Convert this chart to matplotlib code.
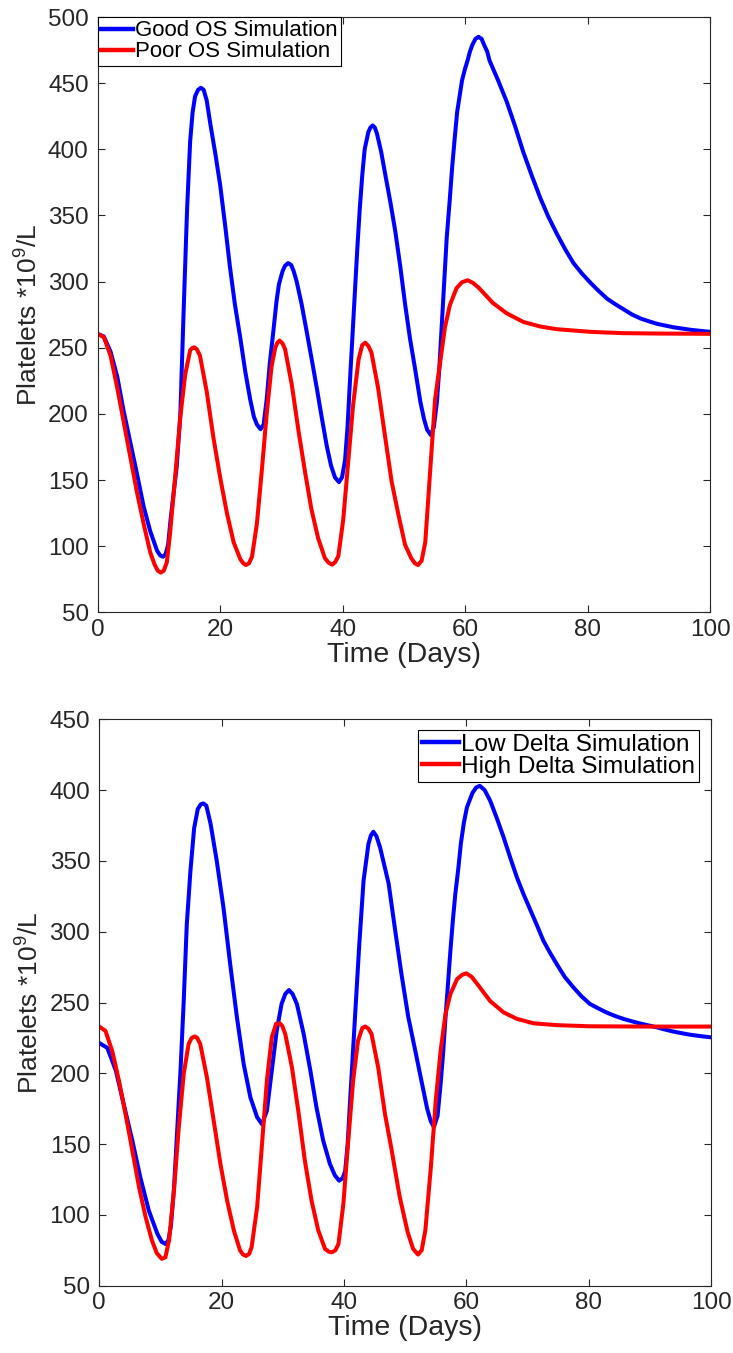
import matplotlib
matplotlib.use("Agg")
import matplotlib.pyplot as plt

plt.rcParams['font.family'] = ['Liberation Sans', 'DejaVu Sans']
plt.rcParams['mathtext.fontset'] = 'custom'
plt.rcParams['mathtext.rm'] = 'Liberation Sans'
plt.rcParams['mathtext.it'] = 'Liberation Sans'

# ---------------- Top panel: Good vs Poor OS ----------------
good_t = [0, 1, 2.1, 3.2, 4.2, 5.3, 6.4, 7.5, 8.6, 9.7, 10.2, 10.65, 11.1, 11.5, 11.9, 12.4, 12.9,
          13.5, 14.0, 14.6, 15.1, 15.5, 15.9, 16.4, 16.85, 17.3, 17.8, 18.4, 19.2, 20.0, 20.8, 21.6,
          22.4, 23.3, 24.1, 24.9, 25.5, 26.0, 26.6, 27.1, 27.6, 28.1, 28.7, 29.2, 29.6, 30.2, 30.6,
          31.1, 31.6, 32.0, 32.5, 33.3, 34.1, 35.0, 35.8, 36.6, 37.4, 38.1, 38.75, 39.4, 39.9, 40.4,
          40.8, 41.2, 41.6, 42.0, 42.4, 42.8, 43.2, 43.6, 44.2, 44.55, 44.9, 45.25, 45.6, 46.3, 47.0,
          47.8, 48.6, 49.4, 50.2, 51.0, 51.8, 52.7, 53.3, 53.8, 54.4, 54.9, 55.4, 55.8, 56.2, 56.6,
          57.0, 57.5, 57.9, 58.3, 58.7, 59.1, 59.5, 60.0, 60.4, 60.8, 61.2, 61.7, 62.2, 62.7, 63.1,
          63.6, 64.0, 65.4, 66.8, 68.2, 69.5, 70.9, 72.3, 73.6, 75.0, 76.4, 77.7, 79.1, 80.5, 81.8,
          83.2, 84.5, 85.9, 87.3, 88.7, 90.0, 91.4, 94.1, 96.9, 100]
good_v = [260.5, 258.5, 247, 228, 203, 179, 155, 130, 111, 96.5, 93, 92, 94, 101, 120, 140, 160,
          200, 273, 355, 406, 428, 440, 445, 446.5, 445, 437, 419, 397, 373, 343, 311,
          283, 257, 232, 211, 198, 192, 188.4, 192, 211, 238, 263, 285, 298, 308, 312,
          314, 312.5, 308, 300, 283, 263, 240, 219, 197, 176, 161, 152, 148.4, 152, 165,
          190, 225, 258, 292, 325, 355, 380, 400, 413, 416.5, 418, 416.5, 412, 398, 380,
          360, 338, 312, 283, 257, 235, 209, 196, 188, 184, 190, 209, 235, 268, 300,
          333, 362, 387, 408, 428, 440, 452, 461, 467, 474, 479, 483.5, 485, 483.5, 479,
          474, 467, 452, 436, 417, 398, 380, 363, 349, 336, 324, 314, 306, 299, 293,
          287, 283, 279, 275, 272, 270, 268, 265.4, 263.5, 262]

poor_t = [0, 1.0, 2.1, 3.2, 4.2, 5.3, 6.4, 7.5, 8.6, 9.3, 9.8, 10.3, 10.8, 11.3, 11.8, 12.7, 13.5,
          14.3, 15.1, 15.45, 15.8, 16.2, 16.7, 17.8, 18.9, 20.0, 21.1, 22.2, 23.3, 23.8, 24.2, 24.7,
          25.2, 26.0, 26.8, 27.6, 28.4, 29.0, 29.35, 29.7, 30.15, 30.6, 31.7, 32.8, 33.9, 34.9, 36.0,
          37.1, 37.7, 38.3, 38.8, 39.3, 40.1, 40.9, 41.7, 42.6, 43.2, 43.7, 44.2, 44.7, 45.8, 46.9,
          48.0, 49.1, 50.2, 51.2, 51.8, 52.3, 52.9, 53.5, 54.3, 55.1, 55.9, 56.7, 57.5, 58.6, 59.5,
          60.4, 61.3, 62.3, 64.5, 66.8, 69.5, 72.3, 75.0, 80.5, 85.9, 92.0, 100]
poor_v = [260.5, 258, 244, 219.5, 195, 168, 141, 117, 95, 86, 81.5, 80, 81.5, 88, 109, 155, 198,
          230, 248, 249.8, 250.3, 248.8, 244, 217, 182, 152, 125, 103, 90, 87, 85.7, 87,
          92, 117, 157, 200, 236, 250, 253.8, 255.4, 253.5, 249, 222, 187, 155, 128, 106,
          91, 87.5, 86, 88, 92.5, 120, 163, 206, 241, 252, 253.8, 251.3, 246.5, 219.5, 184,
          149, 124, 101, 91, 87, 85.7, 89, 103, 157, 211, 238, 265, 282, 295, 299.5,
          301, 299, 295, 284, 276, 269.5, 266, 264, 262, 261, 260.7, 260.5]

# ---------------- Bottom panel: Low vs High Delta ----------------
low_t = [0, 1.3, 2.7, 4.0, 5.4, 6.7, 8.1, 9.5, 10.2, 10.8, 11.3, 11.7, 12.2, 12.7, 13.3, 13.8,
         14.3, 14.9, 15.5, 16.1, 16.6, 17.0, 17.5, 18.2, 19.2, 20.3, 21.4, 22.5, 23.6, 24.7, 25.8,
         26.6, 27.4, 28.2, 29.0, 29.8, 30.4, 31.0, 31.6, 32.3, 33.4, 34.5, 35.5, 36.6, 37.7, 38.5,
         39.2, 39.8, 40.2, 40.6, 41.0, 41.4, 41.8, 42.5, 43.2, 44.0, 44.4, 44.8, 45.3, 45.9, 47.3,
         48.4, 49.4, 50.5, 51.7, 52.6, 53.6, 54.2, 54.7, 55.3, 55.8, 56.2, 56.6, 57.0, 57.4, 57.8,
         58.2, 58.7, 59.1, 59.6, 60.1, 61.0, 61.6, 62.2, 63.0, 63.9, 65.0, 66.1, 67.2, 68.3, 69.4,
         70.5, 71.6, 72.6, 73.7, 74.8, 76.1, 77.5, 78.8, 80.2, 81.5, 82.9, 84.3, 85.7, 87.0, 88.3,
         89.7, 91.1, 92.4, 93.7, 95.1, 96.5, 98.2, 100]
low_v = [221.4, 218, 202, 178, 152.5, 126.6, 103, 86.6, 81, 79.5, 82, 92, 118, 157, 204, 251,
         305, 343, 373, 386.6, 390, 390.6, 389, 376, 350, 317, 277, 239.5, 206.6, 183, 169,
         164, 173.6, 202, 230, 249, 256, 258.8, 256, 249, 228, 202, 176, 152.5, 136, 128,
         124.2, 126, 131, 150, 180.7, 210, 239.5, 291, 336, 362, 368, 370.6, 367.5, 359.5, 334,
         300, 270, 240, 215, 196, 175, 166, 162, 170, 192.5, 214, 239.5, 263, 286.6, 308,
         326.6, 345, 362, 377, 387.8, 398, 401.8, 403, 400, 392.5, 380, 366.6, 352, 338, 326,
         315, 304, 293.6, 285, 277, 268, 260.7, 254.5, 249, 246, 243, 240.5, 238.4, 236.8, 235.3,
         233.9, 232.5, 231, 229.6, 228.4, 227.3, 226.3, 225.4]

high_t = [0, 1.0, 2.1, 3.2, 4.3, 5.4, 6.5, 7.6, 8.6, 9.4, 10.2, 10.8, 11.4, 12.2, 13.0, 13.8,
          14.6, 15.1, 15.6, 16.0, 16.5, 17.6, 18.7, 19.8, 20.9, 22.0, 23.0, 23.5, 24.0, 24.5, 24.9,
          25.8, 26.6, 27.4, 28.2, 28.9, 29.5, 29.9, 30.4, 31.5, 32.6, 33.6, 34.7, 35.8, 36.9, 37.5,
          38.0, 38.6, 39.1, 39.9, 40.7, 41.5, 42.3, 43.0, 43.5, 44.0, 44.5, 45.6, 46.7, 47.7, 49.1,
          50.4, 51.3, 52.1, 52.7, 53.3, 54.2, 55.0, 55.8, 56.6, 57.4, 58.5, 59.3, 60.0, 60.9, 61.8,
          63.9, 66.1, 68.3, 71.0, 74.8, 80.2, 90.0, 100]
high_v = [233, 230, 216, 195, 171, 145.4, 119.5, 98, 82, 73, 69, 70, 82, 117, 162, 199.5,
          220.7, 225, 226, 225, 220.7, 197, 166.6, 136, 110, 89, 75, 72, 71, 72.5, 77.2,
          105.4, 150, 195, 225.4, 235, 235.3, 233.5, 227.8, 204, 171.3, 138.4, 110, 89, 76, 74,
          73.6, 75, 79.5, 107.8, 152.5, 195, 223, 232, 233, 231.5, 227.8, 204, 171.3, 148, 113,
          88, 76, 72, 75, 89, 133.6, 180.7, 216, 242, 256, 266.6, 269.5, 270.6, 268, 263,
          251, 243, 238.4, 235.3, 234, 233.2, 233, 233]

xticks = [0, 20, 40, 60, 80, 100]
top_yticks = [50, 100, 150, 200, 250, 300, 350, 400, 450, 500]
bot_yticks = [50, 100, 150, 200, 250, 300, 350, 400, 450]

fig = plt.figure(figsize=(7.33, 13.53), dpi=100)
ax1 = fig.add_axes([97.7 / 733, 1 - 612.3 / 1353, (710 - 97.7) / 733, (612.3 - 17) / 1353])
ax2 = fig.add_axes([99.3 / 733, 1 - 1285.7 / 1353, (711 - 99.3) / 733, (1285.7 - 719.3) / 1353])

dark = '#262626'
panels = [
    (ax1, good_t, good_v, 'Good OS Simulation', poor_t, poor_v, 'Poor OS Simulation', (50, 500), top_yticks),
    (ax2, low_t, low_v, 'Low Delta Simulation', high_t, high_v, 'High Delta Simulation', (50, 450), bot_yticks),
]
for ax, bt, bv, bl, rt, rv, rl, ylim, yt in panels:
    ax.plot(bt, bv, color='#0000ff', lw=2.9, label=bl, solid_joinstyle='round')
    ax.plot(rt, rv, color='#ff0000', lw=2.9, label=rl, solid_joinstyle='round')
    ax.set_xlim(0, 100)
    ax.set_ylim(*ylim)
    ax.set_xticks(xticks)
    ax.set_yticks(yt)
    ax.tick_params(direction='in', length=5, width=0.8, color=dark, labelcolor=dark,
                   labelsize=17.5, top=True, right=True)
    ax.tick_params(axis='x', pad=4.5)
    ax.tick_params(axis='y', pad=6.5)
    for s in ax.spines.values():
        s.set_color(dark)
        s.set_linewidth(0.8)
    ax.set_xlabel('Time (Days)', fontsize=20.5, color=dark, labelpad=1)
    ax.set_ylabel(r'Platelets *10$^9$/L', fontsize=19, color=dark, labelpad=4)

leg_kw = dict(frameon=True, fancybox=False, borderaxespad=0,
              handletextpad=0.1, borderpad=0.15, labelspacing=0.0)
l1 = ax1.legend(loc='upper left', fontsize=16, handlelength=1.45, **leg_kw)
l2 = ax2.legend(loc='upper right', bbox_to_anchor=(0.980, 0.981), fontsize=17.6,
                handlelength=1.5, **leg_kw)
for lg in (l1, l2):
    fr = lg.get_frame()
    fr.set_edgecolor('black')
    fr.set_linewidth(0.8)
    fr.set_alpha(1)
    for ln in lg.get_lines():
        ln.set_linewidth(3.2)

fig.savefig('out.png', dpi=100)
